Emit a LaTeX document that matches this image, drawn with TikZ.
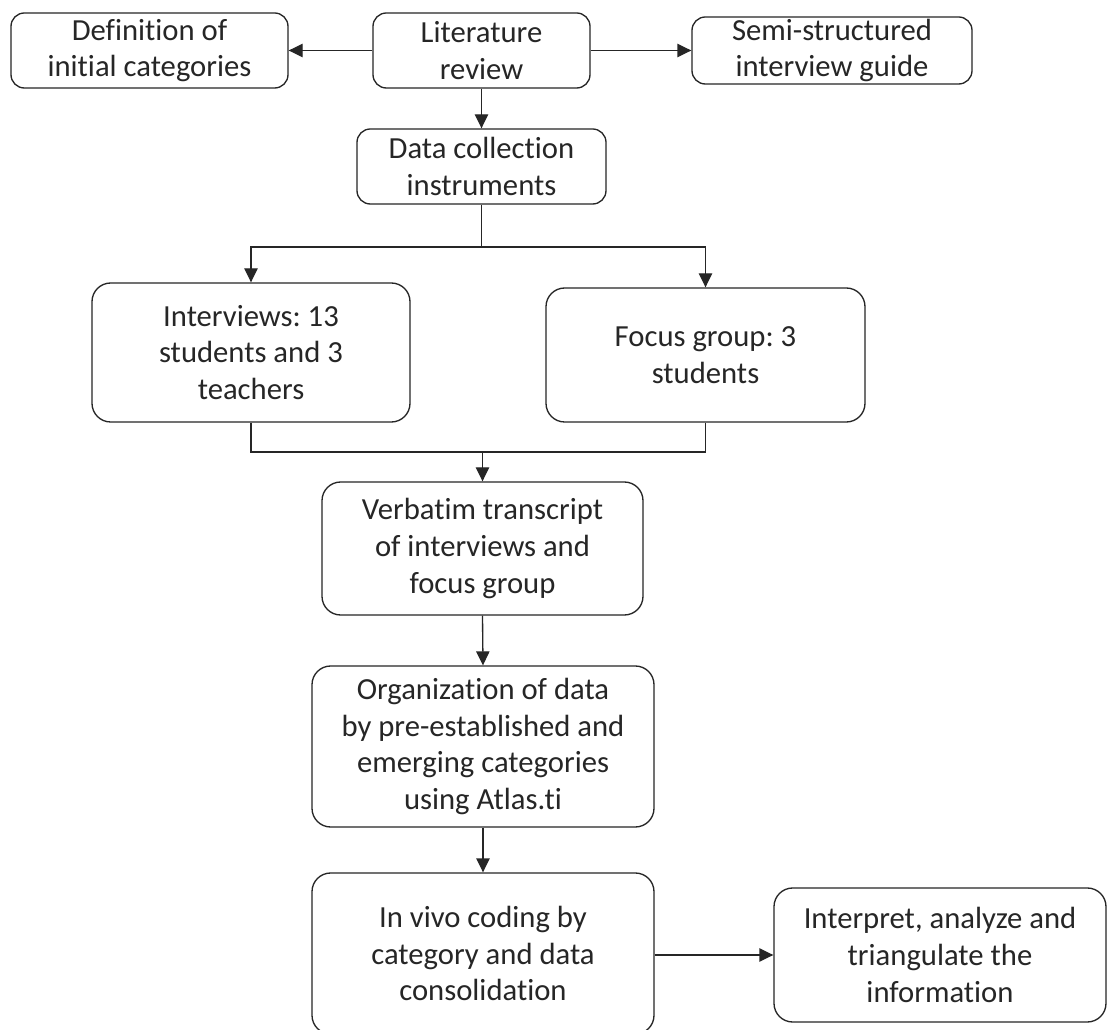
\documentclass[tikz,border=0pt]{standalone}
\usepackage{fontspec}
\setmainfont{Carlito}[Ligatures=NoCommon]
\usetikzlibrary{arrows.meta}
\frenchspacing
\begin{document}
\begin{tikzpicture}[x=0.75pt,y=-0.75pt,
  box/.style={draw=black!85, line width=1pt, rounded corners=10pt, align=center,
    inner sep=0pt, font=\fontsize{23pt}{27.5pt}\selectfont\frenchspacing, text=black!85},
  bigbox/.style={box, rounded corners=14pt},
  conn/.style={draw=black!85, line width=1pt},
  arr/.style={conn, -{Triangle[length=10.5pt,width=10pt]}}]
\useasboundingbox (0,0) rectangle (1108,1030);
\fill[white] (0,0) rectangle (1108,1030);

\node[box, minimum width=277*0.75pt, minimum height=75*0.75pt] (def) at (149.5,50.5) {Definition of\\initial categories};
\node[box, minimum width=217*0.75pt, minimum height=75*0.75pt] (lit) at (481.5,50.5) {Literature\\review};
\node[box, minimum width=280*0.75pt, minimum height=67*0.75pt] (semi) at (832,50.5) {Semi-structured\\interview guide};
\node[box, minimum width=249*0.75pt, minimum height=75*0.75pt] (data) at (481.5,166.5) {Data collection\\instruments};
\node[bigbox, minimum width=318*0.75pt, minimum height=139*0.75pt] (intv) at (251,352.5) {Interviews: 13\\students and 3\\teachers};
\node[bigbox, minimum width=319*0.75pt, minimum height=134*0.75pt] (focus) at (705.5,355) {Focus group: 3\\students};
\node[bigbox, minimum width=321*0.75pt, minimum height=133*0.75pt] (verb) at (482.5,548.5) {Verbatim transcript\\of interviews and\\focus group};
\node[bigbox, minimum width=342*0.75pt, minimum height=161*0.75pt] (org) at (483,746.5) {Organization of data\\by pre-established and\\emerging categories\\using Atlas.ti};
\node[bigbox, minimum width=342*0.75pt, minimum height=161*0.75pt] (vivo) at (483,953.5) {In vivo coding by\\category and data\\consolidation};
\node[bigbox, minimum width=332*0.75pt, minimum height=134*0.75pt] (interp) at (940,955) {Interpret, analyze and\\triangulate the\\information};

\coordinate (split) at (481.5,247);
\coordinate (merge) at (482.5,452);

\draw[arr] (lit.west) -- (def.east);
\draw[arr] (lit.east) -- (semi.west |- lit.east);
\draw[arr] (lit.south) -- (data.north);
\draw[conn] (data.south) -- (split);
\draw[arr] (split) -| (intv.north);
\draw[arr] (split) -| (focus.north);
\draw[conn] (intv.south) |- (merge);
\draw[conn] (focus.south) |- (merge);
\draw[arr] (merge) -- (verb.north);
\draw[arr] (verb.south) -- (org.north);
\draw[arr] (org.south) -- (vivo.north);
\draw[arr] (vivo.east |- interp.west) -- (interp.west);
\end{tikzpicture}
\end{document}
